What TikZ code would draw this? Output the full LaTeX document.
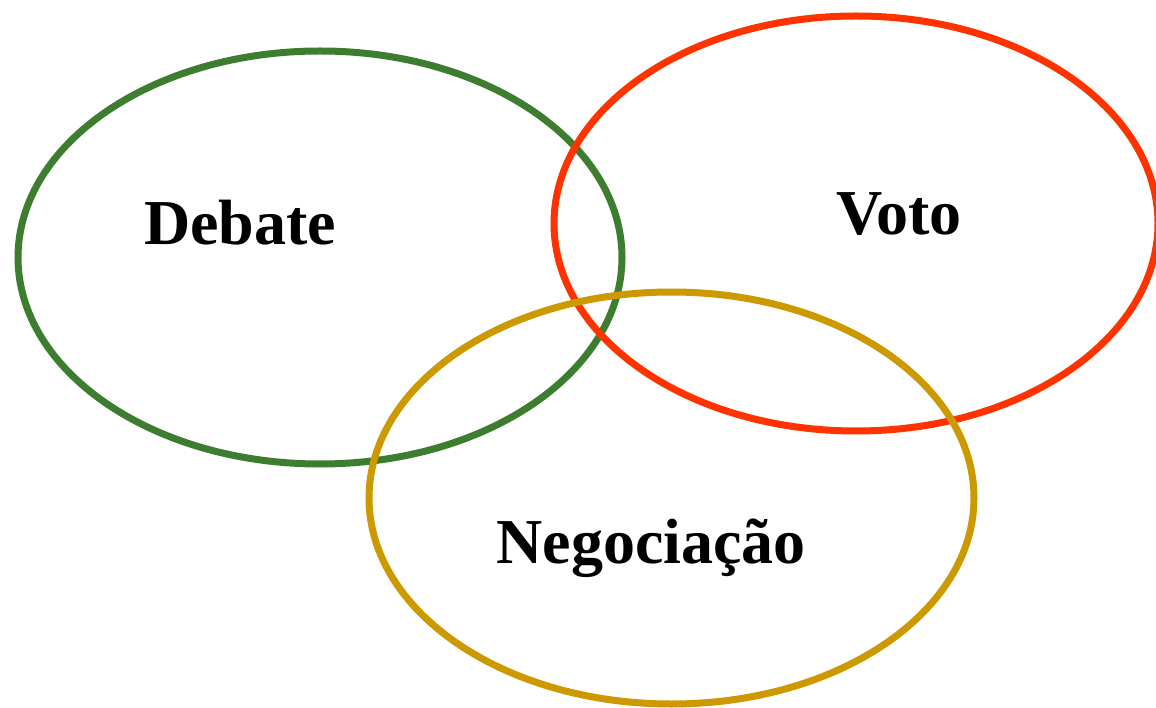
\documentclass[tikz,border=0pt]{standalone}
\usepackage{fontspec}
\setmainfont{Liberation Serif}
\usepackage{xcolor}
\usepackage{tikz}
\definecolor{debategreen}{RGB}{61,125,48}
\definecolor{votored}{RGB}{255,51,0}
\definecolor{neggold}{RGB}{204,153,0}
\tikzset{
    circle line/.style={line width=7pt},
    label text/.style={draw=none, color=black, anchor=base, font=\fontsize{64}{70}\selectfont\bfseries}
}
\begin{document}
\begin{tikzpicture}[x=1pt, y=-1pt]
        \useasboundingbox (0,0) rectangle (1156,708);
        % coordinates
        \coordinate (cD) at (320,257.5);
        \coordinate (cV) at (856,223.5);
        \coordinate (cN) at (671.5,498);
        % ellipses
        \draw[circle line, debategreen] (cD) ellipse [x radius=302, y radius=206.5];
        \draw[circle line, votored] (cV) ellipse [x radius=302, y radius=207.5];
        \draw[circle line, neggold] (cN) ellipse [x radius=302.5, y radius=206];

        % Text
        \node[label text] (debate) at (240,245) {Debate};
        \node[label text] (voto) at (899,235) {Voto};
        \node[label text] (negociacao) at (651,563) {Negociação};

    \end{tikzpicture}
\end{document}
